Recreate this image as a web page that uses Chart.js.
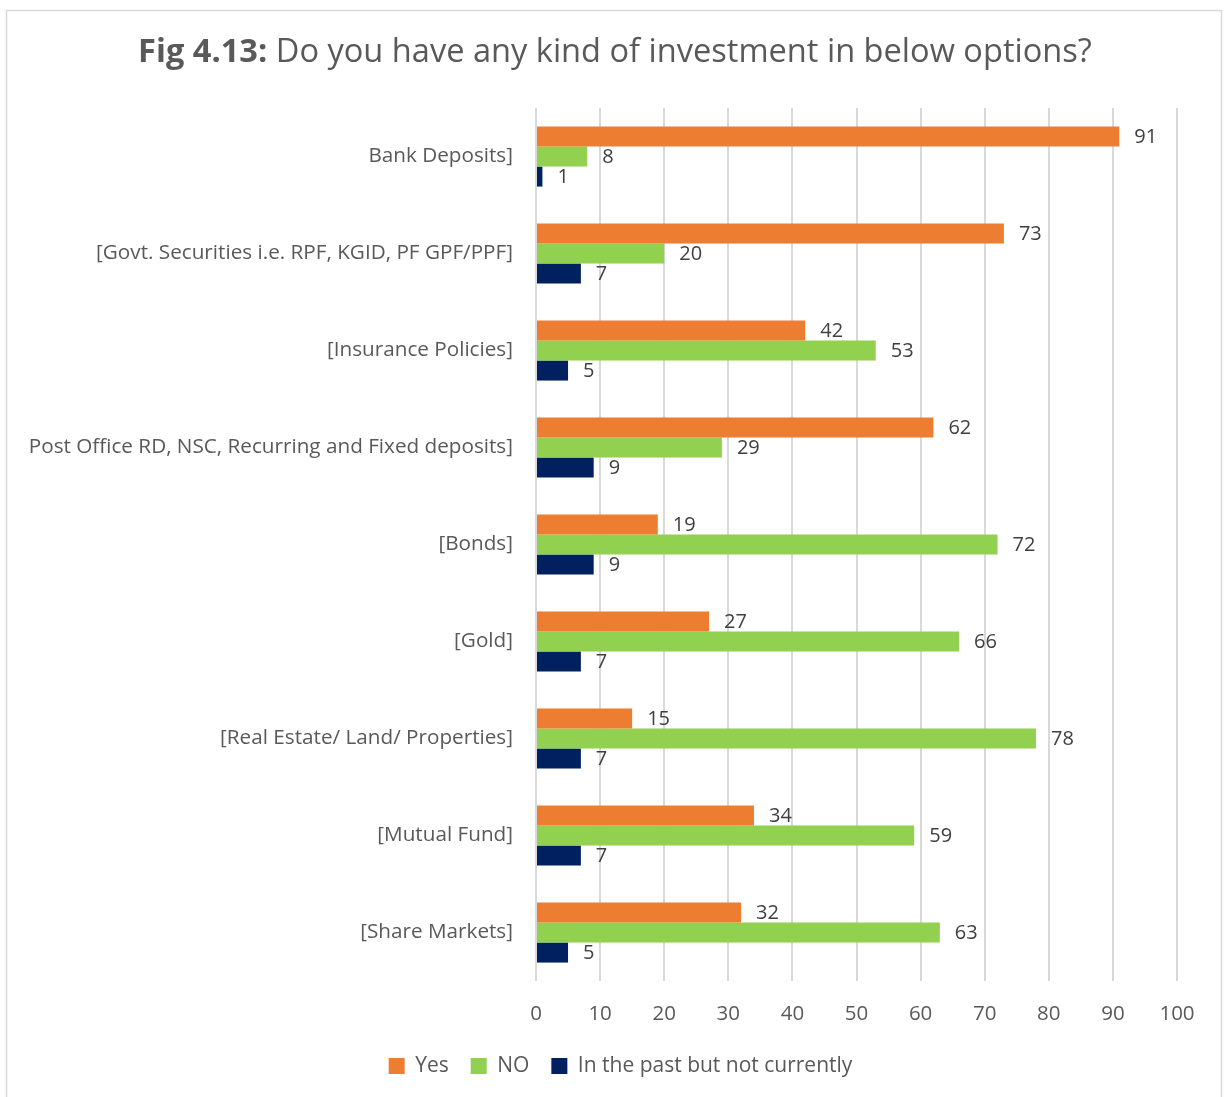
<!DOCTYPE html>
<html>
<head>
<meta charset="utf-8">
<script src="https://cdn.jsdelivr.net/npm/chart.js@4.4.1/dist/chart.umd.min.js"></script>
<style>
  html, body { margin: 0; padding: 0; background: #fff; }
  #wrap { position: absolute; left: 0; top: 0; width: 1230px; height: 1097px; }
</style>
</head>
<body>
<div id="wrap"><canvas id="chart"></canvas></div>
<script>
// investment options and survey answers (%)
const categories = [
    'Bank Deposits]',
    '[Govt. Securities i.e. RPF, KGID, PF GPF/PPF]',
    '[Insurance Policies]',
    'Post Office RD, NSC, Recurring and Fixed deposits]',
    '[Bonds]',
    '[Gold]',
    '[Real Estate/ Land/ Properties]',
    '[Mutual Fund]',
    '[Share Markets]'
];
const yesValues  = [91, 73, 42, 62, 19, 27, 15, 34, 32];
const noValues   = [8, 20, 53, 29, 72, 66, 78, 59, 63];
const pastValues = [1, 7, 5, 9, 9, 7, 7, 7, 5];
const seriesNames = ['Yes', 'NO', 'In the past but not currently'];

const titleBold = 'Fig 4.13:';
const titleRest = ' Do you have any kind of investment in below options?';

const FONT = "'Open Sans', 'Noto Sans', sans-serif";
const TEXT = '#595959';
const TITLE_SIZE = 32.6;

// frame around the whole chart + two-part title
const framePlugin = {
    id: 'frame',
    afterLayout(chart) {
        // legend sits a little right of the plot's centre line
        chart.legend.left += 32;
        chart.legend.right += 32;
    },
    beforeDraw(chart) {
        const c = chart.ctx;
        c.save();
        c.strokeStyle = '#d9d9d9';
        c.lineWidth = 1.5;
        c.strokeRect(6.5, 10.5, 1215, 1120);
        c.restore();
    },
    afterDraw(chart) {
        const c = chart.ctx;
        c.save();
        c.fillStyle = TEXT;
        c.textBaseline = 'middle';
        c.font = 'bold ' + TITLE_SIZE + 'px ' + FONT;
        const w1 = c.measureText(titleBold).width;
        c.font = TITLE_SIZE + 'px ' + FONT;
        const w2 = c.measureText(titleRest).width;
        let x = (chart.width - w1 - w2) / 2;
        c.textAlign = 'left';
        c.font = 'bold ' + TITLE_SIZE + 'px ' + FONT;
        c.fillText(titleBold, x, 53);
        c.font = TITLE_SIZE + 'px ' + FONT;
        c.fillText(titleRest, x + w1, 53);
        c.restore();
    }
};

// value labels at the end of each bar
const valueLabels = {
    id: 'valueLabels',
    afterDatasetsDraw(chart) {
        const c = chart.ctx;
        c.save();
        c.font = '20px ' + FONT;
        c.fillStyle = '#404040';
        c.textAlign = 'left';
        c.textBaseline = 'middle';
        chart.data.datasets.forEach((ds, i) => {
            chart.getDatasetMeta(i).data.forEach((bar, j) => {
                c.fillText(ds.data[j], bar.x + 15, bar.y + 1);
            });
        });
        c.restore();
    }
};

new Chart(document.getElementById('chart'), {
    type: 'bar',
    data: {
        labels: categories,
        datasets: [
            { label: seriesNames[0], data: yesValues, backgroundColor: '#ED7D31' },
            { label: seriesNames[1], data: noValues, backgroundColor: '#92D050' },
            { label: seriesNames[2], data: pastValues, backgroundColor: '#002060' }
        ]
    },
    options: {
        indexAxis: 'y',
        responsive: true,
        maintainAspectRatio: false,
        animation: false,
        layout: { padding: { top: 108, right: 53, bottom: 10.5, left: 0 } },
        datasets: { bar: { categoryPercentage: 0.62, barPercentage: 1.0 } },
        scales: {
            x: {
                min: 0,
                max: 100,
                ticks: { stepSize: 10, color: TEXT, font: { family: FONT, size: 20.5 }, padding: 21 },
                grid: { color: '#d9d9d9', lineWidth: 2, drawTicks: false },
                border: { display: false },
                afterFit(scale) { scale.height = 52.5; }
            },
            y: {
                ticks: { color: TEXT, font: { family: FONT, size: 20.7 }, padding: 23 },
                grid: { display: false, drawTicks: false },
                border: { display: false },
                afterFit(scale) { scale.width = 536; }
            }
        },
        plugins: {
            legend: {
                position: 'bottom',
                labels: {
                    color: TEXT,
                    font: { family: FONT, size: 21 },
                    boxWidth: 16,
                    boxHeight: 16,
                    padding: 22
                }
            },
            tooltip: { enabled: false }
        }
    },
    plugins: [framePlugin, valueLabels]
});
</script>
</body>
</html>
